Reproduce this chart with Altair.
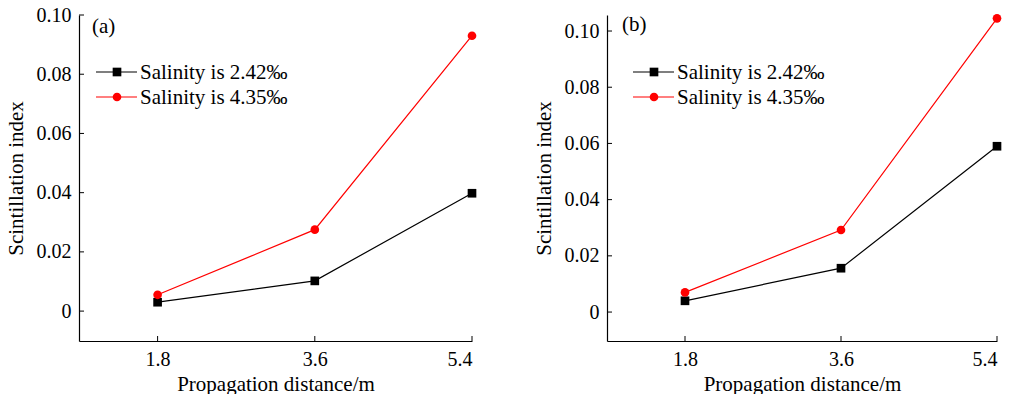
import altair as alt
import pandas as pd

distance = [1.8, 3.6, 5.4]
series_names = ["Salinity is 2.42‰", "Salinity is 4.35‰"]
a_low = [0.003, 0.0102, 0.0398]
a_high = [0.0055, 0.0275, 0.093]
b_low = [0.004, 0.0156, 0.059]
b_high = [0.007, 0.0292, 0.1045]
x_ticks = [1.8, 3.6, 5.4]
y_ticks = [0, 0.02, 0.04, 0.06, 0.08, 0.10]

FONT = "Liberation Serif, Times New Roman, serif"
COLORS = ["#000000", "#ff0000"]
SHAPES = ["square", "circle"]
W_A, W_B, H = 393, 390, 326


def make_df(low, high):
    rows = []
    for d, v in zip(distance, low):
        rows.append({"d": d, "v": v, "s": series_names[0]})
    for d, v in zip(distance, high):
        rows.append({"d": d, "v": v, "s": series_names[1]})
    return pd.DataFrame(rows)


def panel(low, high, label, ydom, width, leg_x, lab_x, lab_y):
    df = make_df(low, high)
    xs = alt.Scale(domain=[0.9, 5.4], nice=False, zero=False)
    ys = alt.Scale(domain=ydom, nice=False, zero=False)
    color = alt.Color("s:N", scale=alt.Scale(domain=series_names, range=COLORS), legend=None)
    shape = alt.Shape("s:N", scale=alt.Scale(domain=series_names, range=SHAPES), legend=None)
    x_axis = alt.Axis(
        values=x_ticks, format=".1f", title="Propagation distance/m", grid=False,
        ticks=False, tickSize=0, labelPadding=8, titlePadding=4,
        labelFontSize=20, titleFontSize=21, labelFont=FONT, titleFont=FONT,
        labelColor="black", titleColor="black", titleFontWeight="normal",
        domainColor="black", domainWidth=1.2)
    y_axis = alt.Axis(
        values=y_ticks, labelExpr="datum.value == 0 ? '0' : format(datum.value, '.2f')",
        title="Scintillation index", grid=False, ticks=False, tickSize=0,
        labelPadding=8, titlePadding=10,
        labelFontSize=20, titleFontSize=21, labelFont=FONT, titleFont=FONT,
        labelColor="black", titleColor="black", titleFontWeight="normal",
        domainColor="black", domainWidth=1.2)
    x_enc = alt.X("d:Q", scale=xs, axis=x_axis, title="Propagation distance/m")
    y_enc = alt.Y("v:Q", scale=ys, axis=y_axis, title="Scintillation index")
    lines = alt.Chart(df).mark_line(strokeWidth=1.2).encode(x=x_enc, y=y_enc, color=color, detail="s:N")
    points = alt.Chart(df).mark_point(filled=True, opacity=1, size=75).encode(
        x=x_enc, y=y_enc, color=color, shape=shape)
    xt = alt.Chart(pd.DataFrame({"d": x_ticks})).mark_rule(color="black", strokeWidth=1).encode(
        x=x_enc, y=alt.value(H), y2=alt.value(H - 5))
    yt = alt.Chart(pd.DataFrame({"v": y_ticks})).mark_rule(color="black", strokeWidth=1).encode(
        y=y_enc, x=alt.value(0), x2=alt.value(5))
    # legend
    leg = pd.DataFrame({"s": series_names, "i": [0, 1]})
    base = alt.Chart(leg).transform_calculate(ly="57 + datum.i * 25")
    ly = alt.Y("ly:Q", scale=None)
    leg_line = base.mark_rule(strokeWidth=1.2).encode(
        x=alt.value(leg_x), x2=alt.value(leg_x + 41), y=ly, color=color)
    leg_pt = base.mark_point(filled=True, opacity=1, size=75).encode(
        x=alt.value(leg_x + 21), y=ly, color=color, shape=shape)
    leg_txt = base.mark_text(align="left", baseline="middle", font=FONT, fontSize=21,
                             color="black", dy=1).encode(
        x=alt.value(leg_x + 44), y=ly, text="s:N")
    lab = alt.Chart(pd.DataFrame({"l": [label]})).mark_text(
        align="left", baseline="middle", font=FONT, fontSize=21, color="black").encode(
        x=alt.value(lab_x), y=alt.value(lab_y), text="l:N")
    return alt.layer(lines, points, xt, yt, leg_line, leg_pt, leg_txt, lab).properties(
        width=width, height=H)


pa = panel(a_low, a_high, "(a)", [-0.0101, 0.10], W_A, 17, 13, 12)
pb = panel(b_low, b_high, "(b)", [-0.0103, 0.1057], W_B, 26, 15, 10)

chart = alt.hconcat(pa, pb, spacing=56).resolve_scale(
    color="independent", shape="independent").configure_view(stroke=None).properties(
    padding={"left": 5, "top": 5, "right": 0, "bottom": 0}, background="white")

chart.save("out.html", embed_options={"renderer": "svg", "actions": False})
